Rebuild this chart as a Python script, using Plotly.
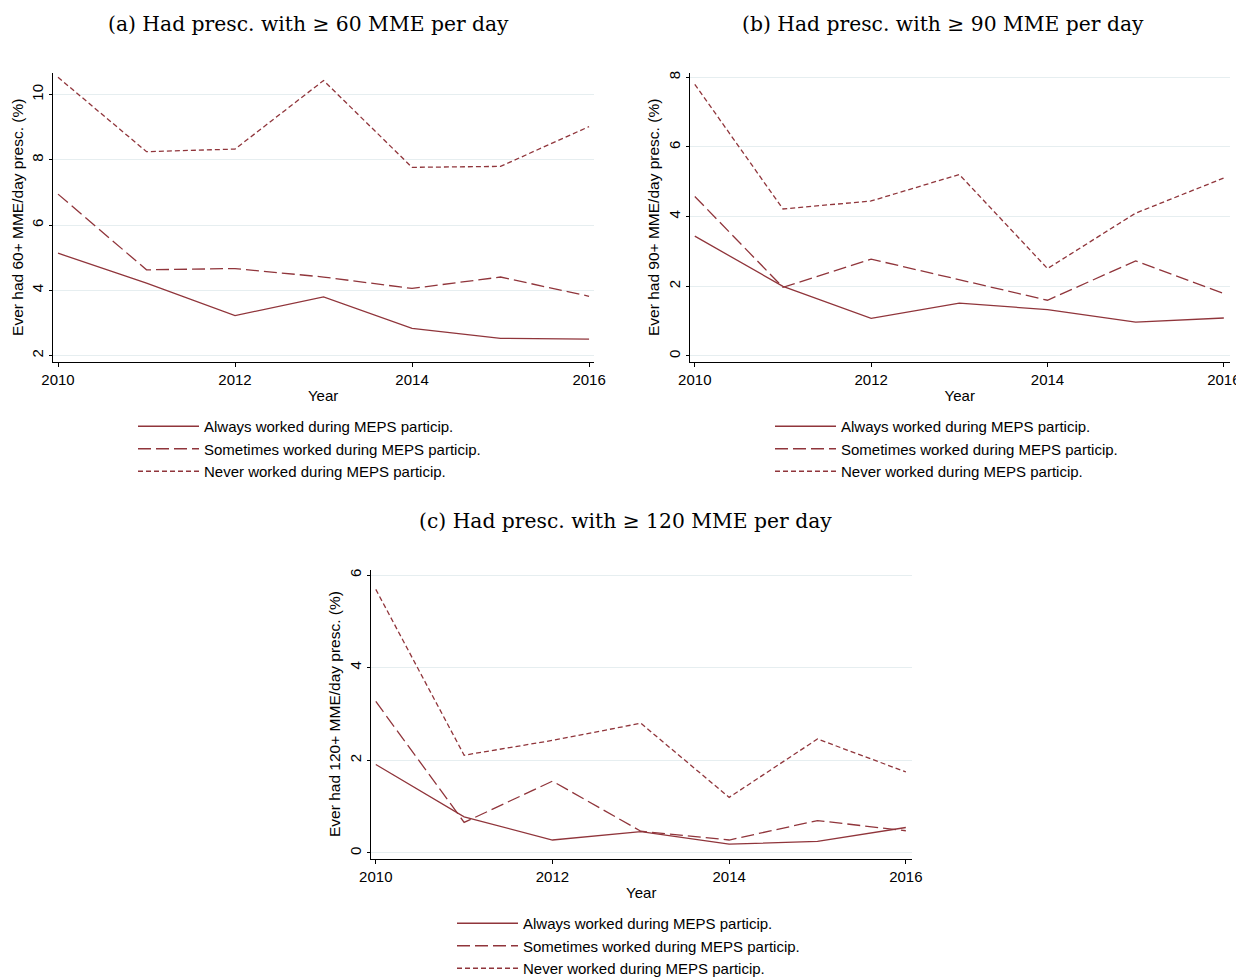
import plotly.graph_objects as go

years = [2010, 2011, 2012, 2013, 2014, 2015, 2016]

series_names = ["Always worked during MEPS particip.",
                "Sometimes worked during MEPS particip.",
                "Never worked during MEPS particip."]

# Panel (a): >= 60 MME per day
a_always = [5.14, 4.22, 3.23, 3.80, 2.84, 2.53, 2.51]
a_sometimes = [6.95, 4.63, 4.67, 4.41, 4.06, 4.41, 3.82]
a_never = [10.53, 8.25, 8.33, 10.43, 7.77, 7.80, 9.02]

# Panel (b): >= 90 MME per day
b_always = [3.44, 2.00, 1.08, 1.52, 1.33, 0.97, 1.09]
b_sometimes = [4.58, 1.97, 2.78, 2.19, 1.60, 2.73, 1.79]
b_never = [7.80, 4.22, 4.45, 5.21, 2.51, 4.10, 5.11]

# Panel (c): >= 120 MME per day
c_always = [1.91, 0.78, 0.28, 0.46, 0.19, 0.25, 0.55]
c_sometimes = [3.27, 0.66, 1.55, 0.47, 0.28, 0.70, 0.48]
c_never = [5.69, 2.11, 2.43, 2.80, 1.20, 2.46, 1.75]

titles = ["(a) Had presc. with \u2265 60 MME per day",
          "(b) Had presc. with \u2265 90 MME per day",
          "(c) Had presc. with \u2265 120 MME per day"]
ytitles = ["Ever had 60+ MME/day presc. (%)",
           "Ever had 90+ MME/day presc. (%)",
           "Ever had 120+ MME/day presc. (%)"]
xticks = [2010, 2012, 2014, 2016]
yticks = [[2, 4, 6, 8, 10], [0, 2, 4, 6, 8], [0, 2, 4, 6]]

# the page body has an 8px margin: the figure fills the rest of the window
OFF = 8
W, H = 1244 - OFF, 977 - OFF
COLOR = "#90353B"
GRID = "#E6EEF0"
SANS = "Liberation Sans, Arial, Helvetica, sans-serif"
SERIF = "DejaVu Serif, serif"

dashes = ["solid", "13px,5px", "5px,3px"]
panels = [(a_always, a_sometimes, a_never),
          (b_always, b_sometimes, b_never),
          (c_always, c_sometimes, c_never)]

# window-pixel layout (left, right, top, bottom) of each plot region
boxes = [(52.7, 593.5, 72.7, 361.7),
         (689.5, 1230.0, 73.3, 361.7),
         (370.5, 912.0, 570.0, 859.0)]
xranges = [[2009.94, 2016.05], [2009.94, 2016.07], [2009.94, 2016.07]]
yranges = [[1.816, 10.67], [-0.164, 8.115], [-0.13, 6.108]]
title_pos = [(308, 24), (943, 24), (625, 521)]
legend_pos = [(133, 410), (770, 410), (452, 907)]


def px(x):
    return (x - OFF) / W


def py(y):
    return 1 - (y - OFF) / H


fig = go.Figure()
for p in range(3):
    sfx = "" if p == 0 else str(p + 1)
    for s in range(3):
        fig.add_trace(go.Scatter(
            x=years, y=panels[p][s], mode="lines",
            name=series_names[s],
            line=dict(color=COLOR, width=1.3, dash=dashes[s]),
            xaxis="x" + sfx, yaxis="y" + sfx,
            legend="legend" + sfx,
            showlegend=True,
        ))

layout = dict(
    width=W, height=H,
    margin=dict(l=0, r=0, t=0, b=0, autoexpand=False),
    paper_bgcolor="white", plot_bgcolor="white",
    font=dict(family=SANS, size=15, color="black"),
    annotations=[],
)

for p in range(3):
    sfx = "" if p == 0 else str(p + 1)
    l, r, t, b = boxes[p]
    layout["xaxis" + sfx] = dict(
        domain=[px(l), px(r)], range=xranges[p], anchor="y" + sfx,
        tickmode="array", tickvals=xticks,
        showline=True, linecolor="black", linewidth=1,
        ticks="outside", ticklen=4, tickcolor="black",
        showgrid=False, zeroline=False, automargin=False,
        ticklabeloverflow="allow",
        tickfont=dict(size=15),
        title=dict(text="Year", font=dict(size=15), standoff=3),
    )
    layout["yaxis" + sfx] = dict(
        domain=[py(b), py(t)], range=yranges[p], anchor="x" + sfx,
        tickmode="array", tickvals=yticks[p],
        showline=True, linecolor="black", linewidth=1,
        ticks="outside", ticklen=3, tickcolor="black",
        showgrid=True, gridcolor=GRID, gridwidth=1,
        zeroline=False, tickangle=-90, automargin=False,
        ticklabeloverflow="allow",
        tickfont=dict(size=15),
    )
    layout["annotations"].append(dict(
        text=ytitles[p], textangle=-90, showarrow=False,
        xref="paper", yref="paper",
        x=px(l - 36), y=py((t + b) / 2),
        xanchor="center", yanchor="middle",
        font=dict(size=15.5),
    ))
    tx, ty = title_pos[p]
    layout["annotations"].append(dict(
        text=titles[p], showarrow=False,
        xref="paper", yref="paper",
        x=px(tx), y=py(ty), xanchor="center", yanchor="middle",
        font=dict(family=SERIF, size=20.3, color="black"),
    ))
    lx, ly = legend_pos[p]
    layout["legend" + sfx] = dict(
        x=px(lx), y=py(ly), xanchor="left", yanchor="top",
        xref="paper", yref="paper",
        bgcolor="rgba(0,0,0,0)", borderwidth=0,
        itemwidth=61, font=dict(size=15, color="black"),
        tracegroupgap=0,
    )

fig.update_layout(**layout)
fig.write_html("out.html")
